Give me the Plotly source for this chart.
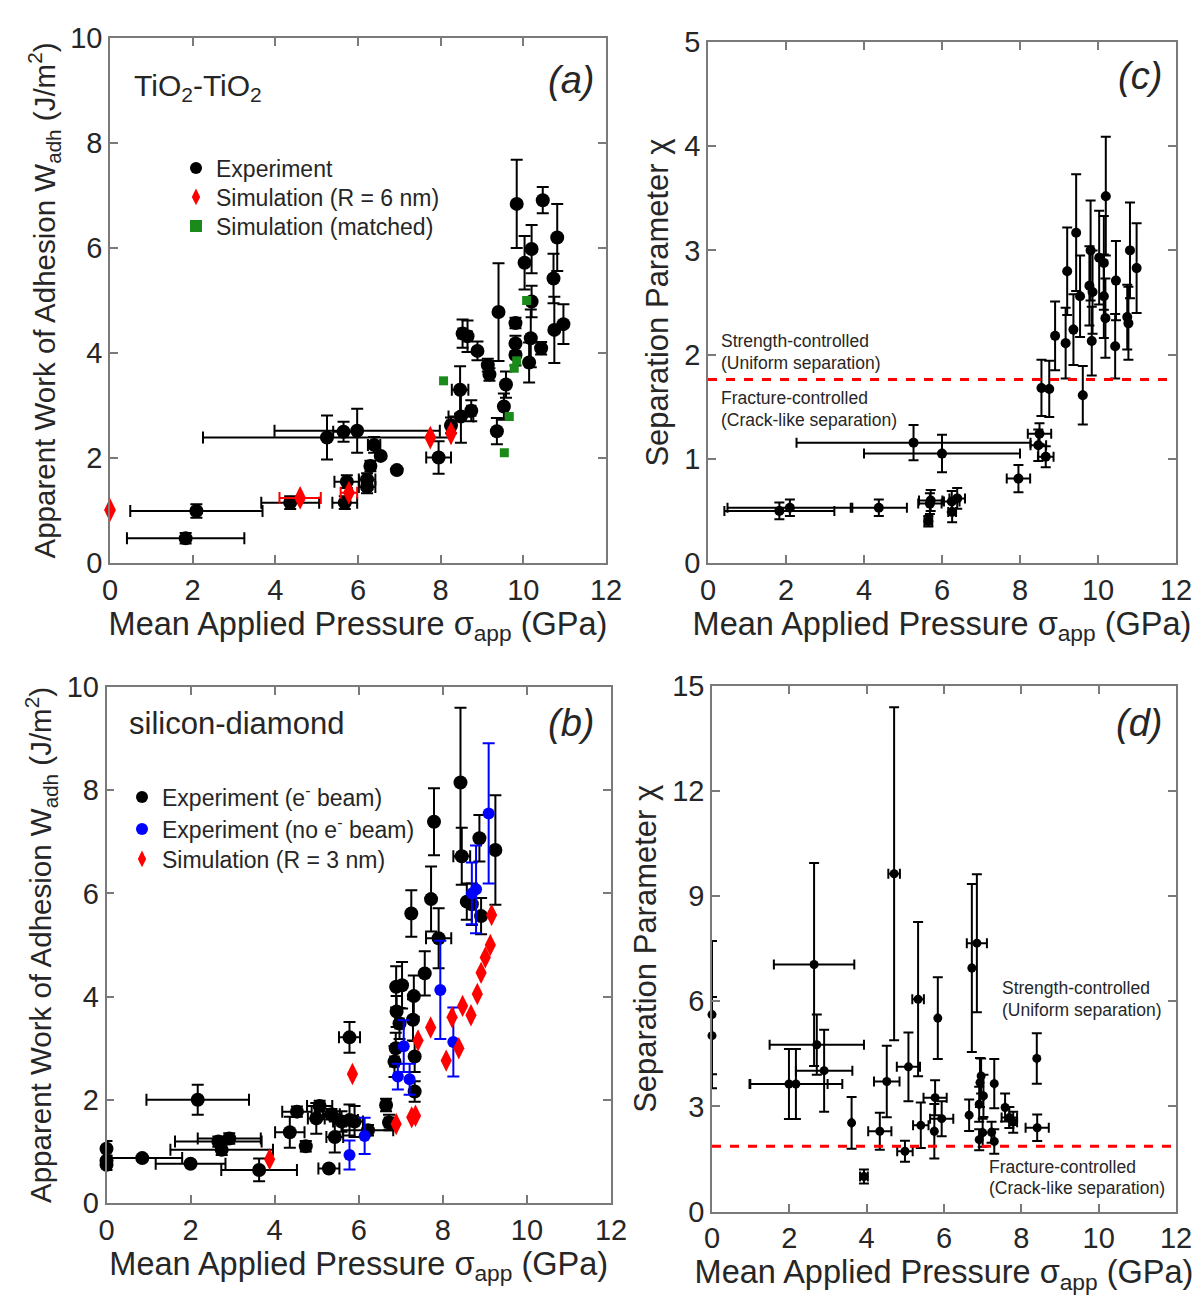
import plotly.graph_objects as go

# ---------------- Panel (a): TiO2-TiO2 ----------------
a_exp_x = [1.83, 2.09, 4.36, 5.68, 5.73, 6.22, 6.22, 6.30, 6.55, 6.39, 6.94, 5.25, 5.65, 5.98, 7.95,
           8.25, 8.47, 8.49, 8.74, 8.53, 8.65, 8.89, 9.14, 9.18, 9.36, 9.40, 9.53, 9.58, 9.81, 9.81,
           9.81, 9.84, 10.03, 10.14, 10.18, 10.20, 10.20, 10.43, 10.47, 10.73, 10.75, 10.82, 10.97]
a_exp_y = [0.47, 0.99, 1.15, 1.15, 1.55, 1.59, 1.45, 1.85, 2.04, 2.25, 1.77, 2.39, 2.50, 2.52, 2.01,
           2.62, 3.30, 2.79, 2.90, 4.37, 4.32, 4.04, 3.77, 3.59, 2.51, 4.78, 2.98, 3.40, 4.57, 4.18,
           3.96, 6.84, 5.72, 3.82, 4.28, 5.98, 4.98, 4.09, 6.91, 5.42, 4.44, 6.20, 4.55]
a_exp_xerr = [1.42, 1.60, 0.70, 0.30, 0.30, 0.20, 0.20, 0.10, 0.00, 0.15, 0.00, 3.00, 0.25, 2.00, 0.30,
              0.10, 0.20, 0.30, 0.10, 0.10, 0.10, 0.00, 0.00, 0.00, 0.00, 0.00, 0.00, 0.00, 0.00, 0.00,
              0.00, 0.00, 0.00, 0.00, 0.00, 0.00, 0.00, 0.00, 0.00, 0.00, 0.00, 0.00, 0.00]
a_exp_yerr = [0.10, 0.13, 0.12, 0.12, 0.12, 0.12, 0.12, 0.10, 0.00, 0.15, 0.00, 0.42, 0.19, 0.42, 0.31,
              0.15, 0.45, 0.50, 0.20, 0.27, 0.30, 0.18, 0.12, 0.12, 0.25, 0.93, 0.25, 0.25, 0.10, 0.15,
              0.20, 0.84, 0.51, 0.38, 0.55, 0.46, 0.30, 0.12, 0.25, 0.47, 0.63, 0.64, 0.38]
a_sim_x = [0.00, 4.60, 5.78, 7.75, 8.25]
a_sim_y = [1.01, 1.24, 1.34, 2.39, 2.47]
a_sim_xerr = [0.0, 0.5, 0.2, 0.0, 0.0]
a_match_x = [8.07, 9.54, 9.66, 9.78, 9.84, 10.08]
a_match_y = [3.47, 2.10, 2.79, 3.71, 3.85, 5.00]

# ---------------- Panel (c): TiO2 separation parameter ----------------
c_x = [1.83, 2.10, 4.38, 5.27, 6.00, 5.65, 5.71, 5.69, 6.25, 6.26, 6.39, 7.96, 8.50, 8.47, 8.66,
       8.55, 8.75, 8.90, 9.17, 9.21, 9.44, 9.37, 9.54, 9.61, 9.81, 9.78, 9.86, 9.84, 10.03, 10.20,
       10.15, 10.15, 10.19, 10.46, 10.44, 10.82, 10.75, 10.78, 10.99]
c_y = [0.50, 0.53, 0.53, 1.155, 1.05, 0.40, 0.60, 0.57, 0.59, 0.49, 0.62, 0.81, 1.24, 1.13, 1.02,
       1.68, 1.67, 2.18, 2.11, 2.80, 3.17, 2.24, 2.56, 1.61, 3.00, 2.66, 2.60, 2.13, 2.93, 3.52,
       2.88, 2.56, 2.35, 2.71, 2.08, 3.00, 2.36, 2.30, 2.83]
c_xerr = [1.41, 1.60, 0.72, 3.00, 2.00, 0.10, 0.30, 0.30, 0.20, 0.10, 0.20, 0.30, 0.30, 0.20, 0.20,
          0, 0, 0, 0, 0, 0, 0, 0, 0, 0, 0, 0, 0, 0, 0, 0, 0, 0, 0, 0, 0, 0, 0, 0]
c_yerr = [0.08, 0.08, 0.08, 0.17, 0.18, 0.05, 0.10, 0.10, 0.10, 0.10, 0.10, 0.13, 0.10, 0.15, 0.10,
          0.27, 0.27, 0.33, 0.34, 0.42, 0.56, 0.34, 0.39, 0.28, 0.48, 0.38, 0.40, 0.33, 0.45, 0.57,
          0.45, 0.40, 0.38, 0.38, 0.31, 0.46, 0.31, 0.35, 0.43]
c_threshold = 1.76

# ---------------- Panel (b): silicon-diamond ----------------
b_exp_x = [0.00, 0.00, 0.00, 0.85, 2.00, 2.17, 2.66, 2.92, 2.74, 3.63, 4.36, 4.53, 4.74, 5.07, 4.99,
           5.35, 5.43, 5.29, 5.59, 5.78, 5.90, 5.78, 6.22, 6.65, 6.72, 6.85, 7.33, 7.33, 6.89, 7.03,
           7.31, 6.90, 7.29, 6.97, 6.88, 7.25, 7.79, 7.72, 7.90, 7.57, 8.42, 8.45, 8.87, 9.25, 8.57,
           8.69, 8.91]
b_exp_y = [1.05, 0.82, 0.74, 0.87, 0.76, 2.00, 1.19, 1.25, 1.03, 0.64, 1.37, 1.77, 1.10, 1.88, 1.64,
           1.72, 1.28, 0.67, 1.58, 1.61, 1.58, 3.21, 1.41, 1.90, 1.56, 2.74, 2.84, 2.16, 4.19, 4.22,
           4.01, 3.71, 3.55, 3.48, 3.00, 5.61, 7.39, 5.89, 5.13, 4.45, 8.15, 6.72, 7.07, 6.84, 5.84,
           5.79, 5.56]
b_exp_xerr = [0.00, 0.00, 0.00, 0.95, 0.83, 1.22, 1.03, 0.75, 1.22, 0.90, 0.35, 0.35, 0.10, 0.30, 0.20,
              0.20, 0.20, 0.25, 0.20, 0.20, 0.20, 0.25, 0.60, 0.10, 0.10, 0.10, 0.00, 0.00, 0.00, 0.00,
              0.00, 0.00, 0.00, 0.10, 0.00, 0.00, 0.00, 0.00, 0.30, 0.00, 0.00, 0.20, 0.00, 0.00, 0.00,
              0.10, 0.00]
b_exp_yerr = [0.15, 0.10, 0.10, 0.00, 0.00, 0.29, 0.10, 0.10, 0.10, 0.22, 0.30, 0.10, 0.10, 0.10, 0.30,
              0.10, 0.30, 0.00, 0.20, 0.30, 0.30, 0.30, 0.10, 0.12, 0.15, 0.30, 0.30, 0.20, 0.40, 0.45,
              0.40, 0.30, 0.40, 0.30, 0.30, 0.45, 0.65, 0.63, 0.58, 0.43, 1.45, 0.55, 0.45, 1.06, 0.35,
              0.40, 0.35]
b_nobeam_x = [5.78, 6.14, 6.93, 7.21, 7.07, 7.94, 8.25, 8.69, 8.79, 9.09]
b_nobeam_y = [0.93, 1.30, 2.45, 2.40, 3.04, 4.13, 3.12, 6.00, 6.08, 7.55]
b_nobeam_yerr = [0.28, 0.35, 0.25, 0.30, 0.50, 0.95, 0.67, 0.60, 0.85, 1.36]
b_sim_x = [3.88, 5.85, 6.89, 7.26, 7.35, 7.41, 7.71, 8.08, 8.22, 8.38, 8.47, 8.67, 8.82, 8.91, 9.01,
           9.13, 9.16]
b_sim_y = [0.85, 2.50, 1.53, 1.66, 1.69, 3.15, 3.40, 2.76, 3.60, 3.00, 3.82, 3.64, 4.05, 4.46, 4.76,
           5.00, 5.58]

# ---------------- Panel (d): silicon-diamond separation parameter ----------------
d_x = [0.00, 0.00, 1.99, 2.17, 2.64, 2.71, 2.90, 3.61, 3.93, 4.34, 4.52, 4.71, 4.99, 5.08, 5.33,
       5.40, 5.77, 5.75, 5.84, 5.94, 6.65, 6.72, 6.85, 6.93, 6.96, 7.02, 6.91, 6.91, 7.00, 7.30,
       7.23, 7.30, 7.58, 7.69, 7.79, 8.40, 8.41]
d_y = [5.62, 5.02, 3.64, 3.64, 7.05, 4.76, 4.02, 2.53, 1.00, 2.29, 3.71, 9.64, 1.72, 4.13, 6.06,
       2.46, 3.25, 2.29, 5.52, 2.65, 2.75, 6.95, 7.66, 3.68, 3.87, 3.30, 3.06, 2.05, 2.25, 3.65,
       2.26, 2.00, 2.97, 2.68, 2.55, 4.37, 2.39]
d_xerr = [0.00, 0.00, 1.00, 1.20, 1.04, 1.22, 0.73, 0.00, 0.10, 0.30, 0.33, 0.15, 0.20, 0.30, 0.15,
          0.20, 0.30, 0.00, 0.00, 0.30, 0.00, 0.00, 0.26, 0.00, 0.00, 0.00, 0.00, 0.00, 0.00, 0.00,
          0.00, 0.00, 0.00, 0.20, 0.10, 0.00, 0.30]
d_yerr = [2.10, 1.10, 1.00, 1.00, 2.90, 0.86, 1.17, 0.74, 0.20, 0.53, 1.02, 4.75, 0.30, 0.98, 2.20,
          0.65, 0.50, 0.78, 1.17, 0.50, 0.45, 2.40, 1.97, 0.70, 0.50, 0.60, 0.50, 0.30, 0.40, 0.70,
          0.30, 0.35, 0.40, 0.30, 0.30, 0.72, 0.38]
d_threshold = 1.86

x_ticks = [0, 2, 4, 6, 8, 10, 12]
w_ticks = [0, 2, 4, 6, 8, 10]
c_ticks = [0, 1, 2, 3, 4, 5]
d_ticks = [0, 3, 6, 9, 12, 15]

FONT = "Arial, Liberation Sans, sans-serif"
TXT = "#262626"
AX = "#7a7a7a"

fig = go.Figure()


def err(arr, w=6, color="black", th=2):
    return dict(type="data", array=arr, symmetric=True, color=color, thickness=th, width=w, visible=True)


# Panel (a)
fig.add_trace(go.Scatter(x=a_exp_x, y=a_exp_y, mode="markers", name="Experiment",
                         marker=dict(symbol="circle", size=14, color="black"),
                         error_x=err(a_exp_xerr), error_y=err(a_exp_yerr),
                         xaxis="x", yaxis="y", legend="legend", cliponaxis=False))
fig.add_trace(go.Scatter(x=a_sim_x, y=a_sim_y, mode="markers", name="Simulation (R = 6 nm)",
                         marker=dict(symbol="diamond-tall", size=17, color="#ff0000"),
                         error_x=err(a_sim_xerr, color="#ff0000"),
                         xaxis="x", yaxis="y", legend="legend2", cliponaxis=False))
fig.add_trace(go.Scatter(x=a_match_x, y=a_match_y, mode="markers", name="Simulation (matched)",
                         marker=dict(symbol="square", size=9, color="#1a8a1a"),
                         xaxis="x", yaxis="y", legend="legend3", cliponaxis=False))

# Panel (c)
fig.add_trace(go.Scatter(x=c_x, y=c_y, mode="markers", showlegend=False,
                         marker=dict(symbol="circle", size=10, color="black"),
                         error_x=err(c_xerr, w=5), error_y=err(c_yerr, w=5),
                         xaxis="x2", yaxis="y2", cliponaxis=False))

# Panel (b)
fig.add_trace(go.Scatter(x=b_exp_x, y=b_exp_y, mode="markers", name="Experiment (e<sup>-</sup> beam)",
                         marker=dict(symbol="circle", size=14, color="black"),
                         error_x=err(b_exp_xerr), error_y=err(b_exp_yerr),
                         xaxis="x3", yaxis="y3", legend="legend4", cliponaxis=False))
fig.add_trace(go.Scatter(x=b_nobeam_x, y=b_nobeam_y, mode="markers", name="Experiment (no e<sup>-</sup> beam)",
                         marker=dict(symbol="circle", size=12, color="#0000ff"),
                         error_y=err(b_nobeam_yerr, color="#0000ff"),
                         xaxis="x3", yaxis="y3", legend="legend5", cliponaxis=False))
fig.add_trace(go.Scatter(x=b_sim_x, y=b_sim_y, mode="markers", name="Simulation (R = 3 nm)",
                         marker=dict(symbol="diamond-tall", size=16, color="#ff0000"),
                         xaxis="x3", yaxis="y3", legend="legend6", cliponaxis=False))

# Panel (d)
fig.add_trace(go.Scatter(x=d_x, y=d_y, mode="markers", showlegend=False,
                         marker=dict(symbol="circle", size=9, color="black"),
                         error_x=err(d_xerr, w=5), error_y=err(d_yerr, w=5),
                         xaxis="x4", yaxis="y4", cliponaxis=False))

# Threshold lines
fig.add_shape(type="line", xref="x2 domain", yref="y2", x0=0, x1=1, y0=c_threshold, y1=c_threshold,
              line=dict(color="#ff0000", width=3, dash="dash"))
fig.add_shape(type="line", xref="x4 domain", yref="y4", x0=0, x1=1, y0=d_threshold, y1=d_threshold,
              line=dict(color="#ff0000", width=3, dash="dash"))

# The page body adds an 8 px margin, so the figure is sized to the window minus that offset.
OFF = 8
W, H = 1202 - OFF, 1300 - OFF


def dx(p0, p1):
    return [(p0 - OFF) / W, (p1 - OFF) / W]


def dy(top, bottom):
    return [1 - (bottom - OFF) / H, 1 - (top - OFF) / H]


dom = {
    "a": (dx(110, 606), dy(38, 563)),
    "c": (dx(708, 1176), dy(42, 563)),
    "b": (dx(106.5, 611), dy(687, 1203)),
    "d": (dx(712, 1176), dy(686, 1211.5)),
}

XT = "Mean Applied Pressure σ<sub>app</sub> (GPa)"
YW = "Apparent Work of Adhesion W<sub>adh</sub> (J/m<sup>2</sup>)"
YC = "Separation Parameter χ"


def xax(domain, anchor):
    return dict(domain=domain, anchor=anchor, range=[0, 12], tickvals=x_ticks, automargin=False,
                ticks="inside", ticklen=8, tickwidth=1.5, tickcolor=AX, mirror="ticks",
                showline=True, linecolor=AX, linewidth=1.5, showgrid=False, zeroline=False,
                tickfont=dict(size=29, color=TXT, family=FONT),
                title=dict(text=XT, font=dict(size=32.5, color=TXT, family=FONT), standoff=7))


def yax(domain, anchor, rng, tv, title, size=30):
    return dict(domain=domain, anchor=anchor, range=rng, tickvals=tv, automargin=False,
                ticks="inside", ticklen=8, tickwidth=1.5, tickcolor=AX, mirror="ticks",
                showline=True, linecolor=AX, linewidth=1.5, showgrid=False, zeroline=False,
                tickfont=dict(size=29, color=TXT, family=FONT),
                title=dict(text=title, font=dict(size=size, color=TXT, family=FONT), standoff=6))


def leg(px, py):
    return dict(x=(px - OFF) / W, y=1 - (py - OFF) / H, xanchor="left", yanchor="middle",
                bgcolor="rgba(0,0,0,0)", font=dict(size=23, color=TXT, family=FONT),
                itemsizing="constant", tracegroupgap=0)


fig.update_layout(
    width=W, height=H, margin=dict(l=0, r=0, t=0, b=0, autoexpand=False),
    paper_bgcolor="white", plot_bgcolor="white",
    font=dict(family=FONT, color=TXT),
    xaxis=xax(dom["a"][0], "y"), yaxis=yax(dom["a"][1], "x", [0, 10], w_ticks, YW, 29.5),
    xaxis2=xax(dom["c"][0], "y2"), yaxis2=yax(dom["c"][1], "x2", [0, 5], c_ticks, YC, 31),
    xaxis3=xax(dom["b"][0], "y3"), yaxis3=yax(dom["b"][1], "x3", [0, 10], w_ticks, YW, 29.5),
    xaxis4=xax(dom["d"][0], "y4"), yaxis4=yax(dom["d"][1], "x4", [0, 15], d_ticks, YC, 31),
    legend=leg(176, 168), legend2=leg(176, 197), legend3=leg(176, 226),
    legend4=leg(122, 797), legend5=leg(122, 829), legend6=leg(122, 859),
    showlegend=True,
)

ann = []


def add_text(text, xref, yref, x, y, size, xanchor="left", italic=False):
    ann.append(dict(text=(f"<i>{text}</i>" if italic else text), xref=xref, yref=yref, x=x, y=y,
                    xanchor=xanchor, yanchor="middle", showarrow=False,
                    font=dict(size=size, color=TXT, family=FONT)))


add_text("TiO<sub>2</sub>-TiO<sub>2</sub>", "x domain", "y domain", 0.044, 0.905, 30)
add_text("(a)", "x domain", "y domain", 0.98, 0.92, 38, xanchor="right", italic=True)
add_text("(c)", "x2 domain", "y2 domain", 0.975, 0.935, 38, xanchor="right", italic=True)
add_text("silicon-diamond", "x3 domain", "y3 domain", 0.04, 0.93, 31)
add_text("(b)", "x3 domain", "y3 domain", 0.97, 0.93, 38, xanchor="right", italic=True)
add_text("(d)", "x4 domain", "y4 domain", 0.975, 0.93, 38, xanchor="right", italic=True)

add_text("Strength-controlled", "x2 domain", "y2 domain", 0.024, 0.426, 17.5)
add_text("(Uniform separation)", "x2 domain", "y2 domain", 0.024, 0.384, 17.5)
add_text("Fracture-controlled", "x2 domain", "y2 domain", 0.024, 0.317, 17.5)
add_text("(Crack-like separation)", "x2 domain", "y2 domain", 0.024, 0.274, 17.5)

add_text("Strength-controlled", "x4 domain", "y4 domain", 0.62, 0.425, 17.5)
add_text("(Uniform separation)", "x4 domain", "y4 domain", 0.62, 0.383, 17.5)
add_text("Fracture-controlled", "x4 domain", "y4 domain", 0.593, 0.085, 17.5)
add_text("(Crack-like separation)", "x4 domain", "y4 domain", 0.593, 0.045, 17.5)

fig.update_layout(annotations=ann)

fig.write_html("out.html")
